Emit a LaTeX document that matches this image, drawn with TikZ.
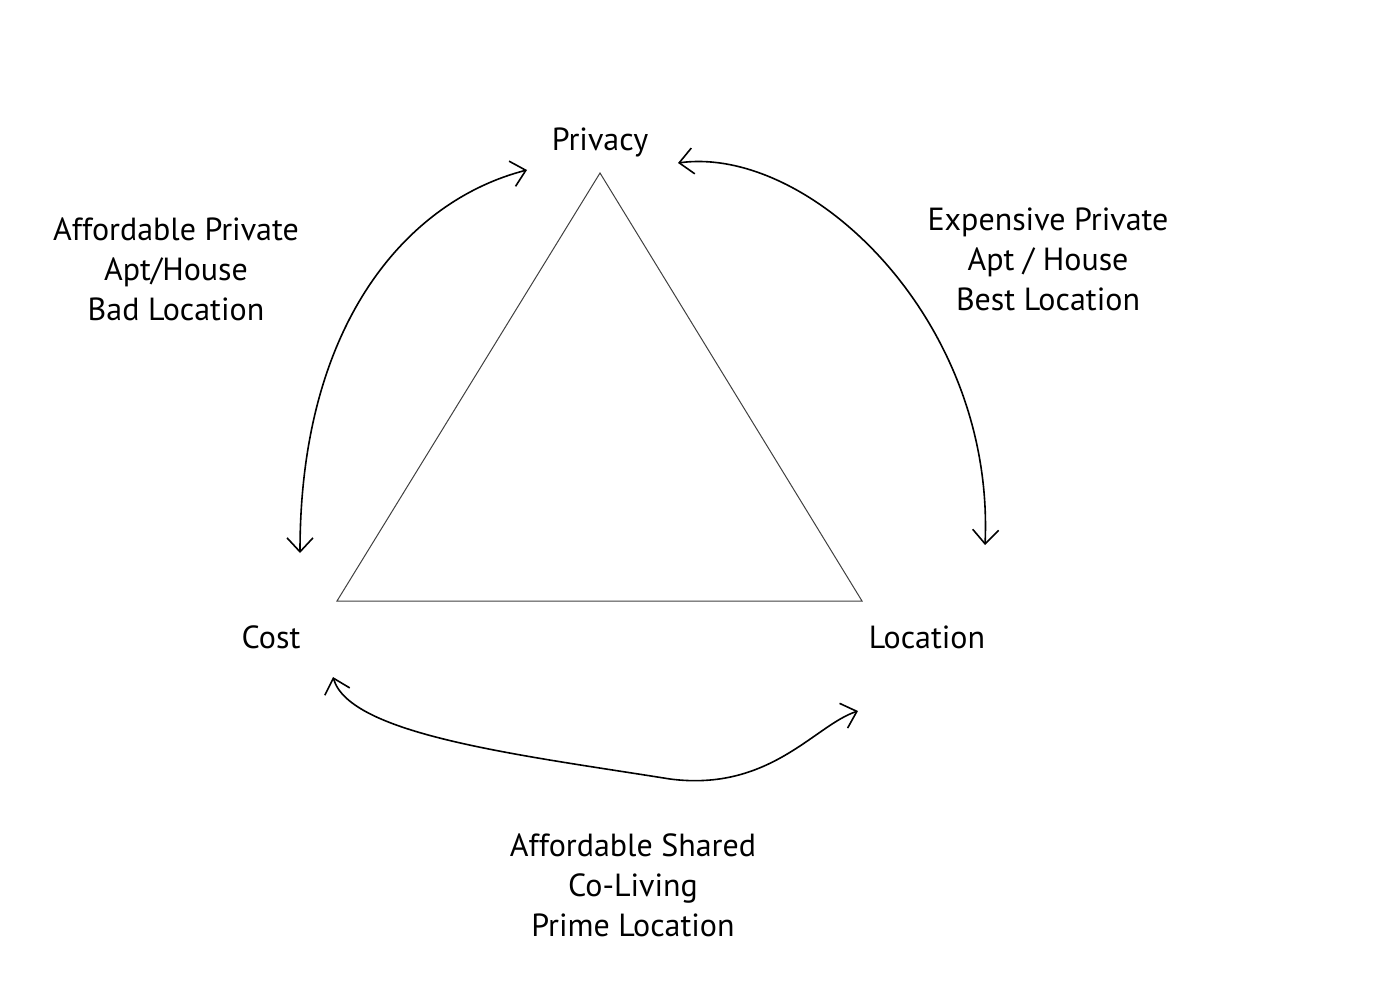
\documentclass[tikz,border=0pt]{standalone}
\usepackage{fontspec}
\setmainfont{PT Sans}
\usetikzlibrary{arrows.meta}
\begin{document}
\begin{tikzpicture}[x=0.5pt,y=-0.5pt,
  lbl/.style={font=\fontsize{16pt}{20pt}\selectfont, align=center, inner sep=0pt},
  tri/.style={draw=black!75, line width=0.5pt},
  arc/.style={draw=black, line width=0.8pt, {Straight Barb[length=7pt,width=13pt]}-{Straight Barb[length=7pt,width=13pt]}}]
\useasboundingbox (0,0) rectangle (1400,1000);
\coordinate (T) at (600,173);
\coordinate (L) at (337,601);
\coordinate (R) at (862,601);
\draw[tri] (T) -- (L) -- (R) -- cycle;
\node[lbl] (privacy) at (600,142) {Privacy};
\node[lbl] (cost) at (271,637) {Cost};
\node[lbl] (location) at (927,637) {Location};
\node[lbl] (lt) at (176,269) {Affordable Private\\Apt/House\\Bad Location};
\node[lbl] (rt) at (1048,259) {Expensive Private\\Apt / House\\Best Location};
\node[lbl] (bt) at (633,885) {Affordable Shared\\Co-Living\\Prime Location};
\coordinate (a1) at (527,170);
\coordinate (a2) at (300,553);
\coordinate (b1) at (678,163);
\coordinate (b2) at (985,545);
\coordinate (c1) at (333,677);
\coordinate (cm) at (670,779);
\coordinate (c2) at (858,711);
\draw[arc] (a1) .. controls (410,200) and (300,320) .. (a2);
\draw[arc] (b1) .. controls (810,145) and (995,320) .. (b2);
\draw[arc] (c1) .. controls (350,735) and (520,755) .. (cm) .. controls (770,792) and (815,725) .. (c2);
\end{tikzpicture}
\end{document}
